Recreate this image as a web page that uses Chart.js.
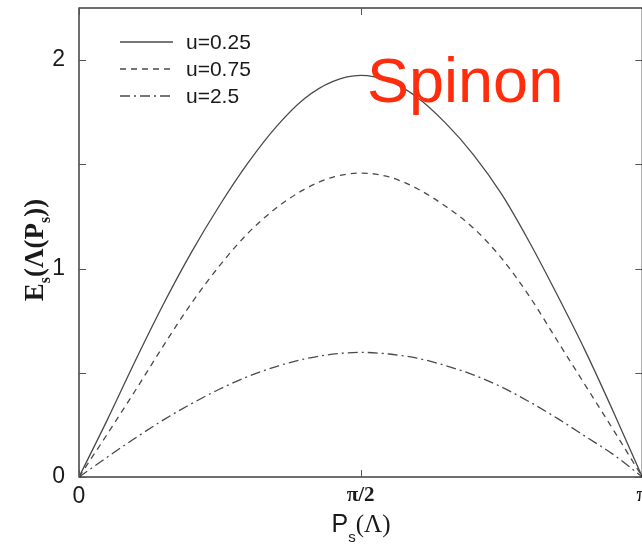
<!DOCTYPE html>
<html>
<head>
<meta charset="utf-8">
<script src="https://cdn.jsdelivr.net/npm/chart.js@4.4.1/dist/chart.umd.min.js"></script>
<style>
  html, body { margin: 0; padding: 0; background: #fff; overflow: hidden; }
  #wrap { width: 642px; height: 548px; overflow: hidden; position: relative; }
  canvas { display: block; }
</style>
</head>
<body>
<div id="wrap"><canvas id="c" width="700" height="548"></canvas></div>
<script>
// Spinon momentum, in units of π
const momentum = [0, 0.05, 0.1, 0.15, 0.2, 0.25, 0.3, 0.35, 0.4, 0.45, 0.5,
                  0.55, 0.6, 0.65, 0.7, 0.75, 0.8, 0.85, 0.9, 0.95, 1];

// Spinon energy E_s for three interaction strengths
const energyU025 = [0, 0.273, 0.558, 0.830, 1.080, 1.305, 1.507, 1.680, 1.815, 1.897, 1.927,
                    1.900, 1.822, 1.700, 1.547, 1.358, 1.125, 0.868, 0.598, 0.305, 0];
const energyU075 = [0, 0.205, 0.415, 0.630, 0.835, 1.015, 1.170, 1.290, 1.380, 1.438, 1.458,
                    1.440, 1.384, 1.300, 1.195, 1.050, 0.865, 0.650, 0.435, 0.220, 0];
const energyU25  = [0, 0.095, 0.187, 0.274, 0.352, 0.422, 0.482, 0.530, 0.566, 0.589, 0.598,
                    0.590, 0.570, 0.535, 0.490, 0.432, 0.360, 0.280, 0.193, 0.105, 0];

const seriesLabels = ['u=0.25', 'u=0.75', 'u=2.5'];

const xTickValues = [0, 0.5, 1];
const xTickLabels = ['0', 'π/2', 'π'];
const yTickValues = [0, 0.5, 1, 1.5, 2];
const yTickLabels = ['0', '', '1', '', '2'];

const LINE = '#4a4a4a';
const INK = '#1a1a1a';

function pts(values) {
  return momentum.map((p, i) => ({ x: p, y: values[i] }));
}

function drawRuns(ctx, runs, x0, y0) {
  let x = x0;
  runs.forEach(r => {
    ctx.font = r.font;
    ctx.fillText(r.text, x, y0 + (r.dy || 0));
    x += ctx.measureText(r.text).width;
  });
}
function runsWidth(ctx, runs) {
  let w = 0;
  runs.forEach(r => { ctx.font = r.font; w += ctx.measureText(r.text).width; });
  return w;
}

const decorations = {
  id: 'decorations',
  afterDraw(chart) {
    const { ctx, chartArea: a, scales: { x, y } } = chart;
    ctx.save();

    // frame
    ctx.strokeStyle = '#222';
    ctx.lineWidth = 1.3;
    ctx.setLineDash([]);
    ctx.strokeRect(a.left, a.top, a.right - a.left, a.bottom - a.top);

    // inward tick marks on all four sides
    ctx.lineWidth = 1;
    ctx.strokeStyle = '#555';
    ctx.beginPath();
    yTickValues.forEach(v => {
      const py = Math.round(y.getPixelForValue(v)) + 0.5;
      ctx.moveTo(a.left, py); ctx.lineTo(a.left + 7, py);
      ctx.moveTo(a.right - 7, py); ctx.lineTo(a.right, py);
    });
    xTickValues.forEach(v => {
      const px = Math.round(x.getPixelForValue(v)) + 0.5;
      ctx.moveTo(px, a.bottom); ctx.lineTo(px, a.bottom - 7);
      ctx.moveTo(px, a.top); ctx.lineTo(px, a.top + 7);
    });
    ctx.stroke();

    // key
    chart.data.datasets.forEach((ds, i) => {
      const ly = 42 + 27 * i;
      ctx.strokeStyle = ds.borderColor;
      ctx.lineWidth = ds.borderWidth;
      ctx.setLineDash(ds.borderDash || []);
      ctx.beginPath();
      ctx.moveTo(120, ly); ctx.lineTo(173, ly);
      ctx.stroke();
      ctx.setLineDash([]);
      ctx.fillStyle = INK;
      ctx.font = '21px "Liberation Sans", Arial, sans-serif';
      ctx.textBaseline = 'middle';
      ctx.textAlign = 'left';
      ctx.fillText(ds.label, 186, ly + 1);
    });

    // x axis title: P_s(Λ)
    ctx.fillStyle = INK;
    ctx.textBaseline = 'alphabetic';
    ctx.textAlign = 'left';
    const xRuns = [
      { text: 'P', font: '25px "Liberation Sans", Arial, sans-serif' },
      { text: 's', font: '15px "Liberation Sans", Arial, sans-serif', dy: 10 },
      { text: '(Λ)', font: '25px "Liberation Serif", "Times New Roman", serif' }
    ];
    const xw = runsWidth(ctx, xRuns);
    drawRuns(ctx, xRuns, 361 - xw / 2, 532);

    // y axis title: E_s(Λ(P_s))
    const yRuns = [
      { text: 'E', font: 'bold 27px "Liberation Serif", "Times New Roman", serif' },
      { text: 's', font: 'bold 16px "Liberation Serif", "Times New Roman", serif', dy: 7 },
      { text: '(Λ(P', font: 'bold 27px "Liberation Serif", "Times New Roman", serif' },
      { text: 's', font: 'bold 16px "Liberation Serif", "Times New Roman", serif', dy: 7 },
      { text: '))', font: 'bold 27px "Liberation Serif", "Times New Roman", serif' }
    ];
    const yw = runsWidth(ctx, yRuns);
    ctx.save();
    ctx.translate(43, 250 + yw / 2);
    ctx.rotate(-Math.PI / 2);
    drawRuns(ctx, yRuns, 0, 0);
    ctx.restore();

    // panel caption
    ctx.fillStyle = '#ff2d0b';
    ctx.font = '63px "Liberation Sans", Arial, sans-serif';
    ctx.fillText('Spinon', 367, 102);

    ctx.restore();
  }
};

new Chart(document.getElementById('c'), {
  type: 'line',
  data: {
    datasets: [
      { label: seriesLabels[0], data: pts(energyU025), borderColor: LINE, borderWidth: 1.3, borderDash: [] },
      { label: seriesLabels[1], data: pts(energyU075), borderColor: LINE, borderWidth: 1.3, borderDash: [6, 5] },
      { label: seriesLabels[2], data: pts(energyU25),  borderColor: LINE, borderWidth: 1.3, borderDash: [10, 4, 2, 4] }
    ]
  },
  options: {
    responsive: false,
    animation: false,
    devicePixelRatio: 1,
    layout: { padding: { top: 8, right: 700 - 642.3, left: 0, bottom: 0 } },
    elements: {
      point: { radius: 0 },
      line: { cubicInterpolationMode: 'monotone', fill: false }
    },
    plugins: { legend: { display: false }, tooltip: { enabled: false } },
    scales: {
      x: {
        type: 'linear',
        min: 0, max: 1,
        afterFit: s => { s.height = 71; s.paddingLeft = 0; s.paddingRight = 0; },
        afterBuildTicks: s => { s.ticks = xTickValues.map(v => ({ value: v })); },
        grid: { display: false, drawTicks: false },
        border: { display: false },
        ticks: {
          padding: 6,
          maxRotation: 0,
          autoSkip: false,
          color: INK,
          font: c => c.index === 0
            ? { family: '"Liberation Sans", Arial, sans-serif', size: 23 }
            : { family: '"Liberation Serif", "Times New Roman", serif', size: 21, weight: 'bold' },
          callback: (v, i) => xTickLabels[xTickValues.indexOf(v)]
        }
      },
      y: {
        type: 'linear',
        min: 0, max: 2.25,
        afterFit: s => { s.width = 79; s.paddingTop = 0; s.paddingBottom = 0; },
        afterBuildTicks: s => { s.ticks = yTickValues.map(v => ({ value: v })); },
        grid: { display: false, drawTicks: false },
        border: { display: false },
        ticks: {
          padding: 14,
          autoSkip: false,
          color: INK,
          font: { family: '"Liberation Sans", Arial, sans-serif', size: 23 },
          callback: v => yTickLabels[yTickValues.indexOf(v)]
        }
      }
    }
  },
  plugins: [decorations]
});
</script>
</body>
</html>
